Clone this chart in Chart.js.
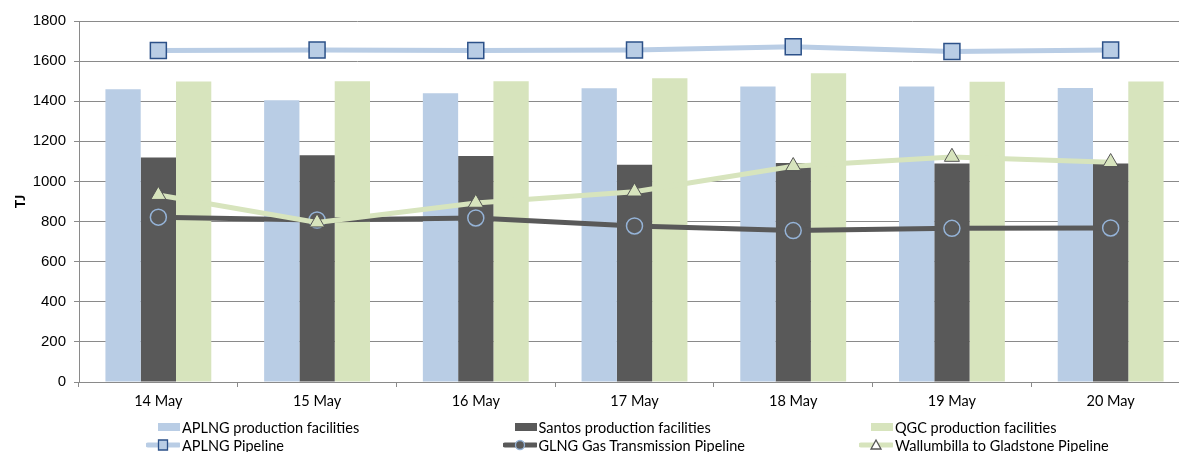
<!DOCTYPE html>
<html>
<head>
<meta charset="utf-8">
<script src="https://cdn.jsdelivr.net/npm/chart.js@4.4.1/dist/chart.umd.min.js"></script>
<style>
  body { margin: 0; background: #fff; overflow: hidden; }
  #wrap { position: relative; width: 1179px; height: 452px; overflow: hidden; }
  #inner { position: absolute; left: 0; top: 0; width: 1192px; height: 452px; }
  #legend { position: absolute; left: 146px; top: 418px; width: 1070px;
            font-family: Lato, "Liberation Sans", sans-serif; font-size: 14.5px; color: #000; }
  .item { position: absolute; height: 18px; display: flex; align-items: center; white-space: nowrap; }
  .item canvas { margin-right: 2px; }
</style>
</head>
<body>
<div id="wrap">
  <div id="inner"><canvas id="mixChart" width="1192" height="452"></canvas></div>
  <div id="legend"></div>
</div>
<script>
var categories = ['14 May', '15 May', '16 May', '17 May', '18 May', '19 May', '20 May'];
var aplngFacilities = [1460, 1405, 1440, 1465, 1473, 1473, 1466];
var santosFacilities = [1120, 1130, 1127, 1083, 1092, 1090, 1089];
var qgcFacilities = [1498, 1500, 1499, 1515, 1540, 1497, 1498];
var aplngPipeline = [1653, 1655, 1653, 1655, 1672, 1648, 1655];
var glngPipeline = [822, 808, 818, 778, 755, 766, 768];
var wallumbillaPipeline = [932, 795, 893, 949, 1076, 1122, 1096];
var yTicks = [0, 200, 400, 600, 800, 1000, 1200, 1400, 1600, 1800];

var gridColor = '#8a8a8a';

var ctx = document.getElementById('mixChart').getContext('2d');
var mixChart = new Chart(ctx, {
    type: 'bar',
    data: {
        labels: categories,
        datasets: [{
            label: 'APLNG production facilities',
            data: aplngFacilities,
            backgroundColor: '#b9cde5',
            order: 2
        }, {
            label: 'Santos production facilities',
            data: santosFacilities,
            backgroundColor: '#595959',
            order: 2
        }, {
            label: 'QGC production facilities',
            data: qgcFacilities,
            backgroundColor: '#d7e4bd',
            order: 2
        }, {
            type: 'line',
            label: 'APLNG Pipeline',
            data: aplngPipeline,
            borderColor: '#b9cde5',
            borderWidth: 5,
            pointStyle: 'rect',
            pointRadius: 11.3,
            pointBackgroundColor: '#b9cde5',
            pointBorderColor: '#2c5189',
            pointBorderWidth: 1.5,
            fill: false,
            order: 0
        }, {
            type: 'line',
            label: 'GLNG Gas Transmission Pipeline',
            data: glngPipeline,
            borderColor: '#595959',
            borderWidth: 5,
            pointStyle: 'circle',
            pointRadius: 8,
            pointBackgroundColor: '#595959',
            pointBorderColor: '#95b3d7',
            pointBorderWidth: 1.5,
            fill: false,
            order: 1
        }, {
            type: 'line',
            label: 'Wallumbilla to Gladstone Pipeline',
            data: wallumbillaPipeline,
            borderColor: '#d7e4bd',
            borderWidth: 5,
            pointStyle: 'triangle',
            pointRadius: 8.7,
            pointBackgroundColor: '#d7e4bd',
            pointBorderColor: '#555555',
            pointBorderWidth: 1,
            fill: false,
            order: 0
        }]
    },
    options: {
        responsive: false,
        animation: false,
        events: [],
        layout: { autoPadding: false, padding: { top: 21, right: 2, bottom: 40, left: 0 } },
        datasets: {
            bar: { categoryPercentage: 0.667, barPercentage: 1 },
            line: { tension: 0 }
        },
        plugins: {
            legend: { display: false },
            tooltip: { enabled: false }
        },
        scales: {
            x: {
                offset: true,
                grid: { drawOnChartArea: false, offset: true, tickLength: 5, color: gridColor },
                border: { color: gridColor },
                ticks: { color: '#000', padding: 6, font: { family: 'Lato', size: 14.5 } },
                afterFit: function (scale) { scale.height = 30; }
            },
            y: {
                min: 0,
                max: 1800,
                afterBuildTicks: function (scale) {
                    scale.ticks = yTicks.map(function (v) { return { value: v }; });
                },
                grid: { color: gridColor, tickLength: 5 },
                border: { color: gridColor },
                ticks: {
                    color: '#000',
                    padding: 8,
                    font: { family: "'Liberation Sans', Arial, sans-serif", size: 15 },
                    callback: function (v) { return String(v); }
                },
                title: {
                    display: true,
                    text: 'TJ',
                    color: '#000',
                    padding: { top: 12, bottom: 0 },
                    font: { family: 'Lato', size: 14, weight: 'bold' }
                },
                afterFit: function (scale) { scale.width = 79; }
            }
        }
    }
});

// legend, built from the datasets
function drawSwatch(c, ds) {
    var g = c.getContext('2d');
    var cy = c.height / 2;
    if (!ds.type) {
        g.fillStyle = ds.backgroundColor;
        g.fillRect(12, cy - 4, 22, 8);
        return;
    }
    g.strokeStyle = ds.borderColor;
    g.lineWidth = 5;
    g.lineCap = 'round';
    g.beginPath();
    g.moveTo(2, cy);
    g.lineTo(33, cy);
    g.stroke();
    var mx = 17;
    g.lineWidth = 1.3;
    g.strokeStyle = ds.pointBorderColor;
    g.fillStyle = ds.pointBackgroundColor;
    g.beginPath();
    if (ds.pointStyle === 'rect') {
        g.rect(mx - 4.5, cy - 5, 9, 10);
        g.fill();
        g.stroke();
    } else if (ds.pointStyle === 'circle') {
        g.arc(mx, cy, 4.5, 0, Math.PI * 2);
        g.fill();
        g.stroke();
    } else {
        g.fillStyle = '#fff';
        g.strokeStyle = '#555';
        g.moveTo(mx, cy - 5);
        g.lineTo(mx + 5, cy + 4);
        g.lineTo(mx - 5, cy + 4);
        g.closePath();
        g.fill();
        g.stroke();
    }
}

var legend = document.getElementById('legend');
mixChart.data.datasets.forEach(function (ds, i) {
    var item = document.createElement('div');
    item.className = 'item';
    item.style.left = ((i % 3) * 356.5) + 'px';
    item.style.top = (Math.floor(i / 3) * 18) + 'px';
    var c = document.createElement('canvas');
    c.width = 34;
    c.height = 18;
    drawSwatch(c, ds);
    item.appendChild(c);
    var t = document.createElement('span');
    t.textContent = ds.label;
    item.appendChild(t);
    legend.appendChild(item);
});
</script>
</body>
</html>
